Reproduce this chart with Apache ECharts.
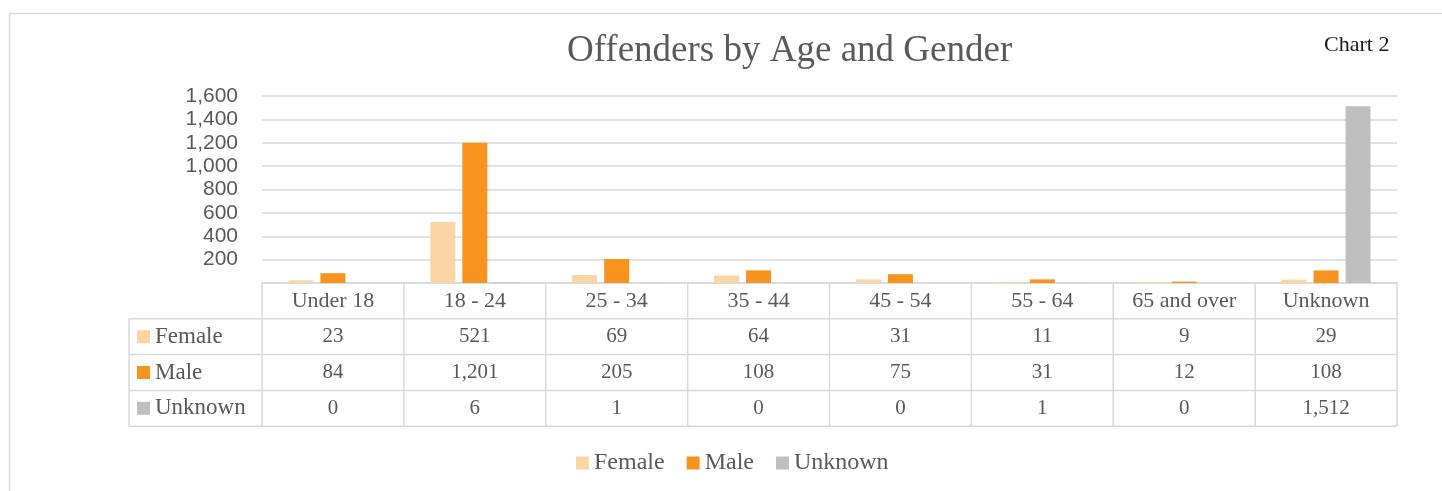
<!DOCTYPE html>
<html>
<head>
<meta charset="utf-8">
<script src="https://cdn.jsdelivr.net/npm/echarts@6/dist/echarts.min.js"></script>
<style>
html, body { margin: 0; padding: 0; background: #fff; }
#chart { width: 1442px; height: 491px; }
</style>
</head>
<body>
<div id="chart"></div>
<script>
// data
const categories = ['Under 18', '18 - 24', '25 - 34', '35 - 44', '45 - 54', '55 - 64', '65 and over', 'Unknown'];
const seriesNames = ['Female', 'Male', 'Unknown'];
const female = [23, 521, 69, 64, 31, 11, 9, 29];
const male = [84, 1201, 205, 108, 75, 31, 12, 108];
const unknown = [0, 6, 1, 0, 0, 1, 0, 1512];
const colors = ['#FCD5A4', '#F7931E', '#BFBFBF'];

const serif = 'Liberation Serif';
const grey = '#595959';
const lineCol = '#D9D9D9';

let myChart = echarts.init(document.getElementById('chart'));
let values = [female, male, unknown];

let option = {
    animation: false,
    color: colors,
    title: {
        text: 'Offenders by Age and Gender',
        left: 567,
        top: 33,
        padding: 0,
        textStyle: { fontFamily: serif, fontSize: 37, fontWeight: 'normal', color: grey }
    },
    legend: {
        data: seriesNames,
        left: 576,
        top: 451,
        padding: 0,
        icon: 'rect',
        itemWidth: 13,
        itemHeight: 13,
        itemGap: 22,
        textStyle: { fontFamily: serif, fontSize: 24, color: grey }
    },
    grid: { left: 262, right: 45, top: 96, bottom: 208 },
    xAxis: {
        type: 'category',
        data: categories,
        axisLabel: { show: false },
        axisTick: { show: false },
        axisLine: { lineStyle: { color: lineCol, width: 1.5 } }
    },
    yAxis: {
        type: 'value',
        min: 0,
        max: 1600,
        interval: 200,
        axisLine: { show: false },
        axisTick: { show: false },
        axisLabel: {
            margin: 24,
            fontFamily: 'Liberation Sans',
            fontSize: 21,
            color: grey,
            formatter: v => v === 0 ? '' : v.toLocaleString('en-US')
        },
        splitLine: { lineStyle: { color: lineCol, width: 1.5 } }
    },
    series: seriesNames.map((name, i) => ({
        name: name,
        type: 'bar',
        data: values[i],
        barWidth: 25,
        barGap: '28%'
    }))
};
myChart.setOption(option);

// data table under the axis, positioned from the category axis
function drawTable() {
    let x0 = myChart.convertToPixel({ xAxisIndex: 0 }, 0);
    let x1 = myChart.convertToPixel({ xAxisIndex: 0 }, 1);
    let band = x1 - x0;
    let left = x0 - band / 2;
    let right = left + band * categories.length;
    let top = myChart.convertToPixel({ yAxisIndex: 0 }, 0);
    let rowH = 35.8;
    let tableLeft = 129;
    let els = [];
    let ln = (a, b, c, d) => els.push({
        type: 'line', silent: true,
        shape: { x1: a, y1: b, x2: c, y2: d },
        style: { stroke: lineCol, lineWidth: 1.5 }
    });
    // horizontal rules
    for (let r = 1; r <= 4; r++) ln(tableLeft, top + rowH * r, right, top + rowH * r);
    // vertical rules
    ln(tableLeft, top + rowH, tableLeft, top + rowH * 4);
    for (let c = 0; c <= categories.length; c++) ln(left + band * c, top, left + band * c, top + rowH * 4);

    // header row
    categories.forEach((cat, c) => {
        els.push({
            type: 'text', silent: true,
            x: left + band * (c + 0.5), y: top + rowH / 2,
            style: { text: cat, font: '22px "Liberation Serif"', fill: grey, align: 'center', verticalAlign: 'middle' }
        });
    });
    // value rows
    seriesNames.forEach((name, r) => {
        let cy = top + rowH * (r + 1.5);
        els.push({
            type: 'rect', silent: true,
            shape: { x: 137, y: cy - 6.5, width: 13, height: 13 },
            style: { fill: colors[r] }
        });
        els.push({
            type: 'text', silent: true,
            x: 155, y: cy,
            style: { text: name, font: '23px "Liberation Serif"', fill: grey, align: 'left', verticalAlign: 'middle' }
        });
        values[r].forEach((v, c) => {
            els.push({
                type: 'text', silent: true,
                x: left + band * (c + 0.5), y: cy,
                style: { text: v.toLocaleString('en-US'), font: '21px "Liberation Serif"', fill: grey, align: 'center', verticalAlign: 'middle' }
            });
        });
    });

    // outer frame and chart number
    els.push({
        type: 'rect', silent: true,
        shape: { x: 9.5, y: 13.5, width: 1500, height: 600 },
        style: { fill: 'none', stroke: lineCol, lineWidth: 1.5 }
    });
    els.push({
        type: 'text', silent: true,
        x: 1324, y: 45,
        style: { text: 'Chart 2', font: '22px "Liberation Serif"', fill: '#1a1a1a', align: 'left', verticalAlign: 'middle' }
    });
    myChart.setOption({ graphic: { elements: els } });
}
drawTable();
</script>
</body>
</html>
